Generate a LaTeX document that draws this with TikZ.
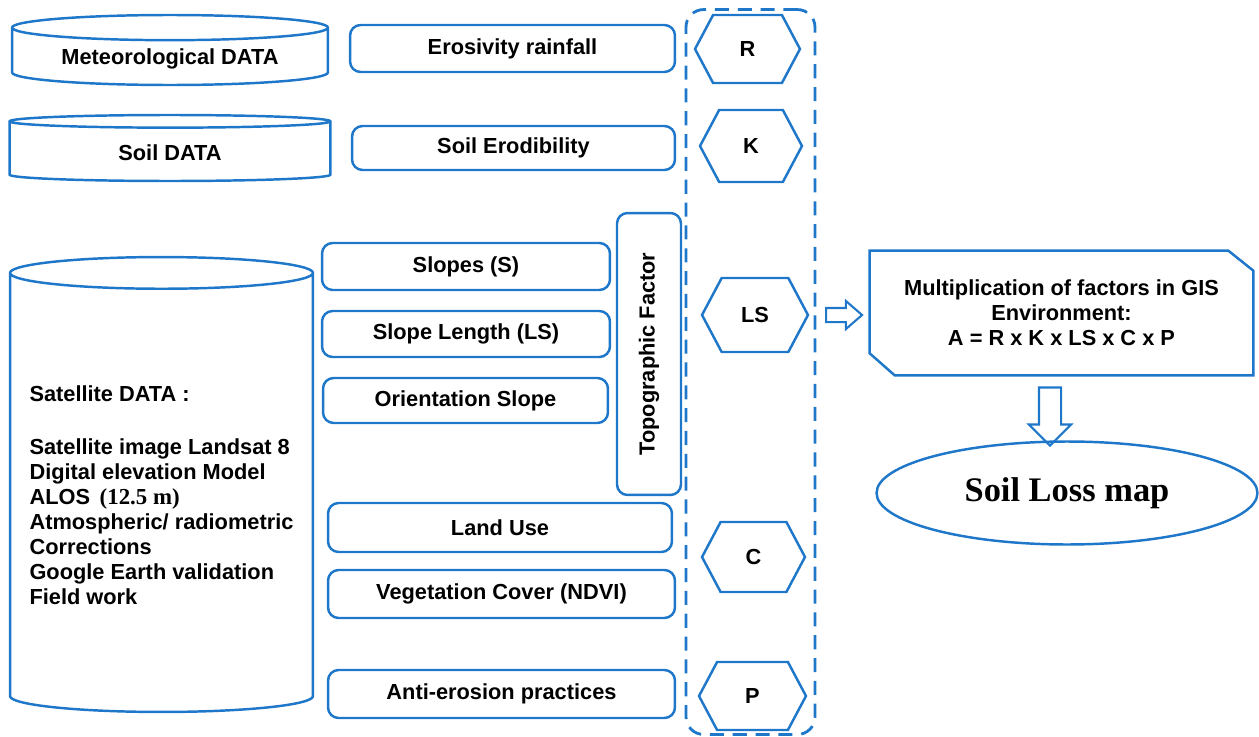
\documentclass[tikz,border=0pt]{standalone}
\usepackage{fontspec}
\setmainfont{Liberation Sans}
\newfontfamily\tnr{Liberation Serif}
\usetikzlibrary{shapes.geometric,shapes.symbols,shapes.arrows,positioning}
\definecolor{flowblue}{HTML}{1F77C9}
\tikzset{lbl/.style={font=\bfseries\fontsize{12.4}{14.2}\selectfont},
  db/.style={cylinder, shape border rotate=90, draw=flowblue, line width=1.4pt, anchor=shape center, lbl},
  rbox/.style={draw=flowblue, line width=1.4pt, rounded corners=6pt, lbl},
  hexa/.style={signal, signal to=west and east, signal pointer angle=124, draw=flowblue, line width=1.4pt, lbl},
  harrow/.style={single arrow, draw=flowblue, line width=1.2pt, inner xsep=0pt}}

\begin{document}
\begin{tikzpicture}[x=0.02cm, y=-0.02cm]
        \useasboundingbox (0,0) rectangle (1259,737);
        \node[db, aspect=0.11, minimum width=6.32cm, minimum height=1.4cm] (met) at (170,50) {Meteorological DATA};
        \node[db, aspect=0.11, minimum width=6.42cm, minimum height=1.32cm] (soil) at (170,148) {Soil DATA};
        \node[db, aspect=0.115, minimum width=6.06cm, minimum height=9.1cm, align=left] (sat) at (161.5,484.5) {
            Satellite DATA :\\[16pt]
            Satellite image Landsat 8\\
            Digital elevation Model\\
            ALOS\, {\tnr\fontsize{13}{14.2}\selectfont (12.5 m)}\\
            Atmospheric/ radiometric\\
            Corrections\\
            Google Earth validation\\
            Field work
        };
        \node[rbox, minimum width=6.5cm, minimum height=0.94cm] (ero) at (512.5,48.5) {Erosivity rainfall};
        \node[rbox, minimum width=6.46cm, minimum height=0.88cm] (erod) at (513.5,148) {Soil Erodibility};
        \node[rbox, minimum width=5.76cm, minimum height=0.94cm] (slope) at (466,266.5) {Slopes (S)};
        \node[rbox, minimum width=5.76cm, minimum height=0.92cm] (slen) at (466,334) {Slope Length (LS)};
        \node[rbox, minimum width=5.7cm, minimum height=0.9cm] (orient) at (465.5,400.5) {Orientation Slope};
        \node[rbox, rotate=90, minimum width=5.64cm, minimum height=1.28cm] (topo) at (649,354) {Topographic Factor};
        \node[rbox, minimum width=6.88cm, minimum height=0.98cm] (landuse) at (500,527.5) {Land Use};
        \node[rbox, minimum width=6.94cm, minimum height=0.96cm] (veg) at (501.5,594) {Vegetation Cover (NDVI)};
        \node[rbox, minimum width=6.94cm, minimum height=0.96cm] (anti) at (501.5,694) {Anti-erosion practices};
        \node[draw=flowblue, line width=1.6pt, dash pattern=on 8pt off 5pt, rounded corners=0.35cm,
            minimum width=2.58cm, minimum height=14.5cm] (fac) at (750.5,372) {};
        \node[hexa, minimum width=2.1cm, minimum height=1.36cm] (hR) at (747.5,49) {R};
        \node[hexa, minimum width=2.04cm, minimum height=1.44cm] (hK) at (751,146) {K};
        \node[hexa, minimum width=2.12cm, minimum height=1.48cm] (hLS) at (755,315) {LS};
        \node[hexa, minimum width=2.06cm, minimum height=1.4cm] (hC) at (753.5,557) {C};
        \node[hexa, minimum width=2.14cm, minimum height=1.36cm] (hP) at (752.5,696) {P};
        \node[harrow, inner ysep=0.12cm, single arrow head extend=0.14cm, single arrow tip angle=82,
            minimum height=0.72cm] (arrR) at (840,315) {};
        \node[lbl, align=center, minimum width=7.66cm, minimum height=2.48cm] (mult) at (1061.5,313) {
            Multiplication of factors in GIS\\ Environment:\\ A = R x K x LS x C x P};
        \draw[flowblue, line width=1.4pt] (mult.north west) -- ([xshift=-0.5cm]mult.north east)
            -- ([yshift=-0.4cm]mult.north east) -- (mult.south east)
            -- ([xshift=0.5cm]mult.south west) -- ([yshift=0.44cm]mult.south west) -- cycle;
        \node[harrow, rotate=-90, inner ysep=0.2cm, single arrow head extend=0.2cm, single arrow tip angle=90,
            minimum height=1.16cm] (arrD) at (1050,411) {};
        \node[ellipse, draw=flowblue, line width=1.4pt, minimum width=7.62cm, minimum height=2.06cm,
            font=\tnr\bfseries\fontsize{19.6}{24}\selectfont] (loss) at (1067,493) {Soil Loss map};
    \end{tikzpicture}
\end{document}
